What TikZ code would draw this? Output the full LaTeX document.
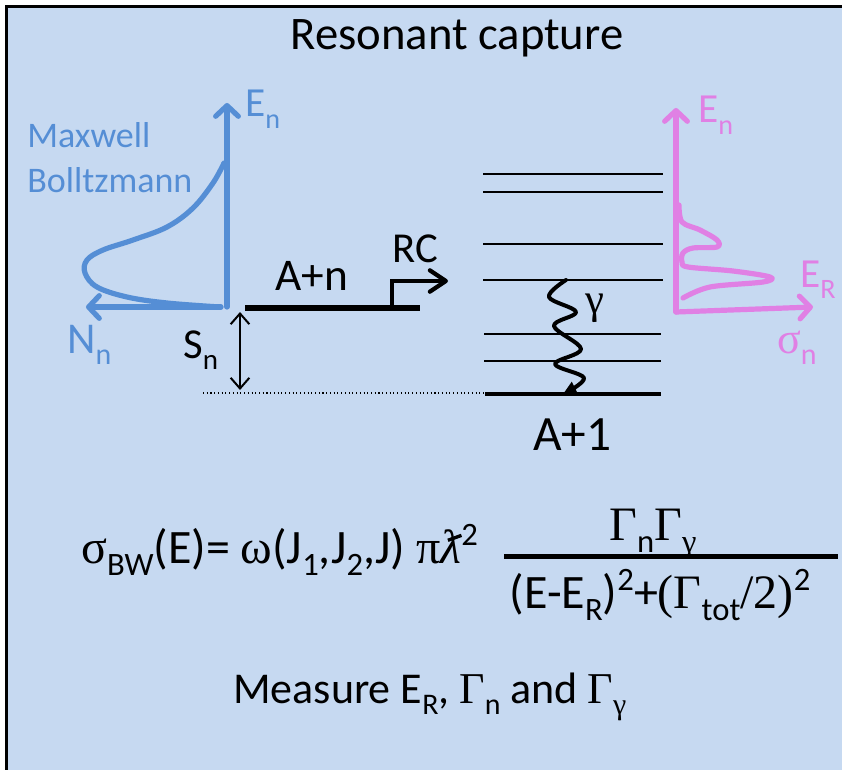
\documentclass[tikz,border=0pt]{standalone}
\usepackage[no-math]{fontspec}
\setmainfont{Carlito}
\newfontfamily\grk{Liberation Serif}
\usetikzlibrary{arrows.meta}
\definecolor{bgblue}{RGB}{198,217,241}
\definecolor{mbblue}{RGB}{85,142,213}
\definecolor{pinkc}{RGB}{224,128,228}
\newcommand\sbs[1]{\raisebox{-0.27em}{\scalebox{0.68}{#1}}}
\newcommand\sps[1]{\raisebox{0.36em}{\scalebox{0.68}{#1}}}
\newcommand\fs[1]{\fontsize{#1}{#1}\selectfont}
\newcommand\lbar{{\grk\itshape\rlap{\kern0.14em\raisebox{0.44em}{\rotatebox{20}{\rule{0.3em}{0.07em}}}}λ}}
\begin{document}
\begin{tikzpicture}[x=0.75pt,y=-0.75pt,
  txt/.style={inner sep=0pt, anchor=base west},
  bluecurve/.style={draw=mbblue, line width=3.9pt, line cap=round, line join=round},
  pinkcurve/.style={draw=pinkc, line width=3.9pt, line cap=round, line join=round},
  bigbarb/.style={-{Straight Barb[length=8pt,width=17pt,round]}},
  level/.style={draw=black, line width=1.2pt},
]
\useasboundingbox (0,0) rectangle (842,770);
\begin{scope}
  \clip (0,0) rectangle (842,770);
  \draw[line width=1.9pt, fill=bgblue] (6.5,6.5) rectangle (900,830);
\end{scope}

% title
\node[inner sep=0pt, anchor=base] (title) at (457,50) {\fs{35}Resonant capture};

% Maxwell-Boltzmann (blue)
\coordinate (bo) at (227,307);
\coordinate (btop) at (227,103);
\coordinate (bleft) at (86,307);
\draw[bluecurve, bigbarb] (bo) -- (btop);
\draw[bluecurve, bigbarb] ([xshift=-4.5]bo) -- (bleft);
\draw[bluecurve] plot[smooth, tension=0.6] coordinates {(224,163) (213,183) (193,208) (167,227) (133,240) (103,250) (87,260) (85,273) (97,287) (127,297) (167,303) (220,307)};
\node[txt, text=mbblue] (mx) at (27,147) {\fs{27}Maxwell};
\node[txt, text=mbblue] (bz) at (27,192) {\fs{27}Bolltzmann};
\node[txt, text=mbblue] (ben) at (245,117) {\fs{31}E\sbs{n}};
\node[txt, text=mbblue] (bnn) at (67,353) {\fs{33}N\sbs{n}};

% A+n level and S_n
\coordinate (an1) at (245,308);
\coordinate (an2) at (420,308);
\draw[line width=3.9pt] (an1) -- (an2);
\node[txt] (anl) at (275,290) {\fs{34}A+n};
\coordinate (rc0) at (392,308);
\coordinate (rc1) at (448,281);
\draw[line width=3.2pt, line join=miter, -{Straight Barb[length=12pt,width=16pt,round]}] (rc0) |- (rc1);
\node[txt] (rcl) at (392,262) {\fs{32}RC};
\coordinate (sn1) at (240,312);
\coordinate (sn2) at (240,390);
\draw[line width=1.5pt, {Straight Barb[length=8pt,width=14pt]}-{Straight Barb[length=8pt,width=14pt]}] (sn1) -- (sn2);
\node[txt] (snl) at (183,358) {\fs{32}S\sbs{n}};
\coordinate (dt1) at (203,393);
\coordinate (dt2) at (485,393);
\draw[line width=0.8pt, dotted] (dt1) -- (dt2);

% A+1 levels
\foreach \yy in {174,192,244,280} \draw[level] (483,\yy) -- (663,\yy);
\foreach \yy in {334,361} \draw[level] (484,\yy) -- (661,\yy);
\coordinate (g1) at (485,394);
\coordinate (g2) at (661,394);
\draw[line width=2.8pt] (g1) -- (g2);
\node[txt] (a1) at (533,450) {\fs{37}A+1};

% gamma cascade
\draw[line width=3pt, line cap=round, line join=round, -{Triangle[length=10pt,width=10pt]}]
  plot[smooth, tension=0.6] coordinates {(566,280) (549,297) (576,312) (554,326) (581,349) (555,364) (584,378) (563,394)};
\node[txt] (gl) at (585,313) {\fs{32}\grk γ};

% resonance (pink)
\coordinate (po) at (676,312);
\coordinate (ptop) at (676,108);
\coordinate (pright) at (813,307);
\draw[pinkcurve, bigbarb] (po) -- (ptop);
\draw[pinkcurve, bigbarb] (po) -- (pright);
\draw[pinkcurve] plot[smooth, tension=0.55] coordinates {(679,205) (682,222) (700,230) (717,240) (717,247) (693,248) (683,253) (682,262) (688,267) (733,271) (770,277) (763,282) (710,287) (683,298)};
\node[txt, text=pinkc] (pen) at (698,123) {\fs{31}E\sbs{n}};
\node[txt, text=pinkc] (per) at (800,287) {\fs{31}E\sbs{R}};
\node[txt, text=pinkc] (psn) at (777,353) {\fs{33}{\grk σ}\sbs{n}};

% formula
\node[txt] (f1) at (81,563) {\fs{36}{\grk σ}\sbs{BW}(E)= {\grk ω}(J\sbs{1},J\sbs{2},J) {\grk π}\lbar\sps{2}};
\coordinate (fb1) at (504,556);
\coordinate (fb2) at (838,556);
\draw[line width=3.75pt] (fb1) -- (fb2);
\node[inner sep=0pt, anchor=base] (num) at (653,540) {\fs{36}{\grk Γ}\sbs{n}{\grk Γ}\sbs{\grk γ}};
\node[inner sep=0pt, anchor=base] (den) at (660,608) {\fs{36}(E-E\sbs{R})\sps{2}+{\grk (Γ}\sbs{tot}{\grk /2)}\sps{2}};

% measure
\node[txt] (meas) at (233,703) {\fs{33}Measure E\sbs{R}, {\grk Γ}\sbs{n} and {\grk Γ}\sbs{\grk γ}};
\end{tikzpicture}
\end{document}
